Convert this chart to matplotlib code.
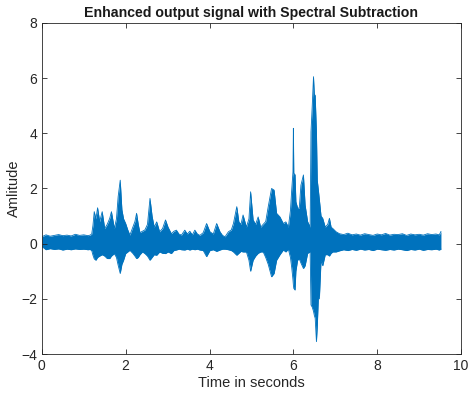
import matplotlib.pyplot as plt

plt.rcParams['font.family'] = ['Liberation Sans', 'DejaVu Sans']

# envelope of the enhanced signal (time in s, upper, lower)
t_env = [0.00, 0.10, 0.20, 0.30, 0.40, 0.50, 0.60, 0.70, 0.80, 0.90, 1.00, 1.10, 1.15,
         1.19, 1.22, 1.25, 1.29, 1.33, 1.38, 1.44, 1.50, 1.56, 1.62, 1.66, 1.73, 1.78,
         1.82, 1.87, 1.91, 1.95, 2.00, 2.05, 2.10, 2.17, 2.22, 2.26, 2.30, 2.34, 2.40,
         2.46, 2.52, 2.58, 2.63, 2.68, 2.74, 2.81, 2.88, 2.95, 3.01, 3.09, 3.15, 3.21,
         3.27, 3.33, 3.41, 3.47, 3.53, 3.59, 3.65, 3.71, 3.77, 3.85, 3.93, 4.01, 4.09,
         4.17, 4.25, 4.31, 4.37, 4.45, 4.52, 4.57, 4.65, 4.70, 4.75, 4.80, 4.88, 4.94,
         4.98, 5.04, 5.10, 5.16, 5.22, 5.28, 5.34, 5.40, 5.48, 5.54, 5.60, 5.68, 5.76,
         5.82, 5.88, 5.93, 5.96, 5.99, 6.00, 6.01, 6.04, 6.06, 6.10, 6.14, 6.18, 6.24,
         6.28, 6.34, 6.40, 6.42, 6.45, 6.48, 6.50, 6.52, 6.55, 6.57, 6.60, 6.62, 6.66,
         6.70, 6.76, 6.82, 6.86, 6.90, 6.94, 7.02, 7.10, 7.20, 7.30, 7.40, 7.50, 7.60,
         7.70, 7.80, 7.90, 8.00, 8.10, 8.20, 8.30, 8.40, 8.50, 8.60, 8.70, 8.80, 8.90,
         9.00, 9.10, 9.20, 9.30, 9.40, 9.48, 9.52]
upper = [0.25, 0.32, 0.27, 0.30, 0.33, 0.29, 0.31, 0.28, 0.34, 0.30, 0.32, 0.29, 0.31,
         0.35, 0.67, 1.16, 0.90, 1.30, 0.80, 1.16, 0.55, 0.70, 0.92, 1.16, 0.55, 0.90,
         1.70, 2.30, 1.23, 0.90, 0.73, 0.50, 0.31, 0.60, 0.80, 1.10, 0.70, 0.40, 0.45,
         0.50, 0.70, 1.64, 1.00, 0.60, 0.79, 0.43, 0.55, 0.86, 0.60, 0.36, 0.45, 0.49,
         0.35, 0.31, 0.49, 0.35, 0.45, 0.32, 0.49, 0.35, 0.30, 0.40, 0.73, 0.43, 0.35,
         0.73, 0.43, 0.30, 0.25, 0.43, 0.50, 0.73, 1.34, 0.79, 0.70, 1.04, 0.60, 0.90,
         1.88, 0.86, 0.70, 0.97, 0.60, 0.70, 0.80, 1.34, 2.00, 1.94, 1.10, 0.97, 0.73,
         0.79, 0.60, 1.20, 1.94, 2.60, 4.18, 2.55, 2.50, 1.52, 1.30, 1.28, 2.12, 2.49,
         1.40, 0.80, 0.60, 4.05, 5.00, 6.05, 5.40, 5.38, 4.05, 2.30, 1.90, 1.60, 1.00,
         0.92, 0.60, 0.70, 0.92, 0.60, 0.55, 0.43, 0.36, 0.33, 0.38, 0.32, 0.35, 0.31,
         0.36, 0.33, 0.30, 0.35, 0.32, 0.37, 0.31, 0.34, 0.33, 0.36, 0.30, 0.35, 0.32,
         0.34, 0.31, 0.36, 0.33, 0.35, 0.32, 0.44]
lower = [-0.10, -0.22, -0.18, -0.21, -0.19, -0.23, -0.20, -0.22, -0.19, -0.21, -0.20, -0.22, -0.21,
         -0.25, -0.42, -0.55, -0.60, -0.50, -0.45, -0.40, -0.45, -0.54, -0.54, -0.45, -0.36, -0.50,
         -0.78, -1.08, -0.75, -0.60, -0.36, -0.30, -0.24, -0.35, -0.45, -0.54, -0.50, -0.40, -0.30,
         -0.36, -0.45, -0.60, -0.50, -0.40, -0.42, -0.30, -0.35, -0.36, -0.30, -0.36, -0.25, -0.23,
         -0.20, -0.22, -0.23, -0.20, -0.23, -0.20, -0.22, -0.20, -0.23, -0.25, -0.47, -0.25, -0.22,
         -0.28, -0.23, -0.20, -0.20, -0.22, -0.25, -0.30, -0.42, -0.35, -0.28, -0.30, -0.30, -0.60,
         -1.00, -0.60, -0.45, -0.35, -0.30, -0.30, -0.50, -0.75, -1.20, -1.08, -0.60, -0.40, -0.23,
         -0.30, -0.20, -0.50, -0.86, -1.30, -1.50, -1.62, -1.68, -1.00, -0.60, -0.55, -0.70, -0.90,
         -0.80, -0.35, -0.30, -2.22, -2.30, -2.45, -2.60, -2.70, -3.55, -3.00, -1.80, -2.00, -0.60,
         -0.80, -0.40, -0.40, -0.45, -0.35, -0.30, -0.30, -0.26, -0.22, -0.25, -0.21, -0.24, -0.20,
         -0.23, -0.21, -0.25, -0.20, -0.22, -0.24, -0.21, -0.23, -0.20, -0.22, -0.25, -0.21, -0.23,
         -0.20, -0.24, -0.21, -0.22, -0.20, -0.23, -0.20]

blue = '#0072BD'
grey = '#262626'

fig = plt.figure(figsize=(4.70, 4.01), dpi=100)
ax = fig.add_axes([0.089, 0.117, 0.892, 0.826])

ax.fill_between(t_env, lower, upper, color=blue, linewidth=0)
ax.plot(t_env, upper, color=blue, linewidth=0.6)
ax.plot(t_env, lower, color=blue, linewidth=0.6)

ax.set_xlim(0, 10)
ax.set_ylim(-4, 8)
ax.set_xticks([0, 2, 4, 6, 8, 10])
ax.set_yticks([-4, -2, 0, 2, 4, 6, 8])
ax.tick_params(direction='in', length=3.5, width=0.6, top=True, right=True,
               labelsize=10, colors=grey)
for s in ax.spines.values():
    s.set_color(grey)
    s.set_linewidth(0.6)

ax.set_title('Enhanced output signal with Spectral Subtraction', fontsize=10.2,
             fontweight='bold', color='#1a1a1a', pad=4)
ax.set_xlabel('Time in seconds', fontsize=10.5, color=grey, labelpad=2)
ax.set_ylabel('Amlitude', fontsize=10.5, color=grey, labelpad=0)

fig.savefig('out.png', dpi=100)
